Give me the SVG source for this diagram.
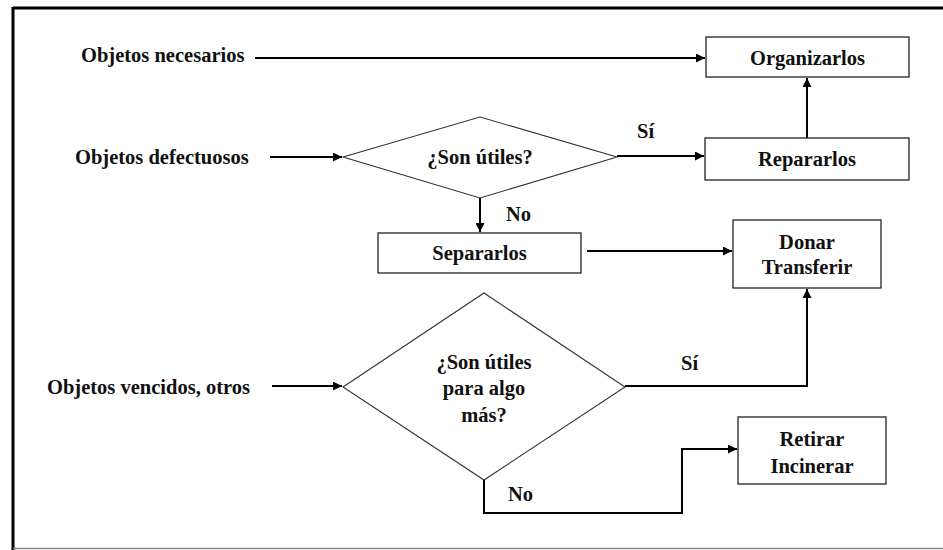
<svg xmlns="http://www.w3.org/2000/svg" width="943" height="550" viewBox="0 0 943 550" font-family="Liberation Serif, Times New Roman, serif">
  <defs>
    <marker id="arrow" viewBox="0 0 10 10" refX="10" refY="5" markerWidth="4.5" markerHeight="4.5" orient="auto" markerUnits="strokeWidth">
      <path d="M0,0 L10,5 L0,10 z" fill="#000"/>
    </marker>
  </defs>
  <style>
    text { font-weight: 700; font-size: 20.5px; fill: #111; }
    .box { fill: #fff; stroke: #222; stroke-width: 1.3; }
    .dia { fill: #fff; stroke: #333; stroke-width: 1.1; }
    .wire { fill: none; stroke: #000; stroke-width: 2; }
  </style>

  <rect width="943" height="550" fill="#fff"/>

  <!-- outer frame -->
  <g id="frame">
    <line x1="13" y1="8" x2="943" y2="8" stroke="#000" stroke-width="3"/>
    <line x1="13" y1="7" x2="13" y2="550" stroke="#000" stroke-width="3"/>
    <line x1="13" y1="548.5" x2="943" y2="548.5" stroke="#888" stroke-width="1.5"/>
  </g>

  <!-- source labels -->
  <g id="src-necesarios"><text font-family="Liberation Serif" x="81" y="62">Objetos necesarios</text></g>
  <g id="src-defectuosos"><text font-family="Liberation Serif" x="75" y="164">Objetos defectuosos</text></g>
  <g id="src-vencidos"><text font-family="Liberation Serif" x="47" y="394">Objetos vencidos, otros</text></g>

  <!-- process boxes -->
  <g id="organizarlos">
    <rect class="box" x="706" y="37" width="203" height="40"/>
    <text font-family="Liberation Serif" x="807.5" y="64.5" text-anchor="middle">Organizarlos</text>
  </g>
  <g id="repararlos">
    <rect class="box" x="705" y="138" width="204" height="42"/>
    <text font-family="Liberation Serif" x="807" y="166" text-anchor="middle">Repararlos</text>
  </g>
  <g id="separarlos">
    <rect class="box" x="378" y="233" width="203" height="40"/>
    <text font-family="Liberation Serif" x="479.5" y="260" text-anchor="middle">Separarlos</text>
  </g>
  <g id="donar">
    <rect class="box" x="733" y="220" width="148" height="68"/>
    <text font-family="Liberation Serif" x="807" y="249" text-anchor="middle">Donar</text>
    <text font-family="Liberation Serif" x="807" y="274" text-anchor="middle">Transferir</text>
  </g>
  <g id="retirar">
    <rect class="box" x="738" y="417" width="148" height="67"/>
    <text font-family="Liberation Serif" x="812" y="446" text-anchor="middle">Retirar</text>
    <text font-family="Liberation Serif" x="812" y="473" text-anchor="middle">Incinerar</text>
  </g>

  <!-- decisions -->
  <g id="decision-utiles">
    <polygon class="dia" points="343,157 480,117 617,157 480,198"/>
    <text font-family="Liberation Serif" x="480" y="164" text-anchor="middle">¿Son útiles?</text>
  </g>
  <g id="decision-algo-mas">
    <polygon class="dia" points="343,387 484,293 625,387 484,480"/>
    <text font-family="Liberation Serif" x="484" y="369" text-anchor="middle">¿Son útiles</text>
    <text font-family="Liberation Serif" x="484" y="395" text-anchor="middle">para algo</text>
    <text font-family="Liberation Serif" x="484" y="422" text-anchor="middle">más?</text>
  </g>

  <!-- connectors -->
  <g id="connectors">
    <line class="wire" x1="255" y1="58" x2="705" y2="58" marker-end="url(#arrow)"/>
    <line class="wire" x1="270" y1="157" x2="342" y2="157" marker-end="url(#arrow)"/>
    <line class="wire" x1="617" y1="156" x2="704" y2="156" marker-end="url(#arrow)"/>
    <line class="wire" x1="807" y1="138" x2="807" y2="78" marker-end="url(#arrow)"/>
    <line class="wire" x1="480" y1="198" x2="480" y2="232" marker-end="url(#arrow)"/>
    <line class="wire" x1="587" y1="251" x2="732" y2="251" marker-end="url(#arrow)"/>
    <line class="wire" x1="272" y1="386" x2="342" y2="386" marker-end="url(#arrow)"/>
    <polyline class="wire" points="625,386 807,386 807,289" marker-end="url(#arrow)"/>
    <polyline class="wire" points="484,480 484,513 682,513 682,449 737,449" marker-end="url(#arrow)"/>
    <text font-family="Liberation Serif" x="637" y="138">Sí</text>
    <text font-family="Liberation Serif" x="506" y="221">No</text>
    <text font-family="Liberation Serif" x="681" y="370">Sí</text>
    <text font-family="Liberation Serif" x="508" y="501">No</text>
  </g>
</svg>
